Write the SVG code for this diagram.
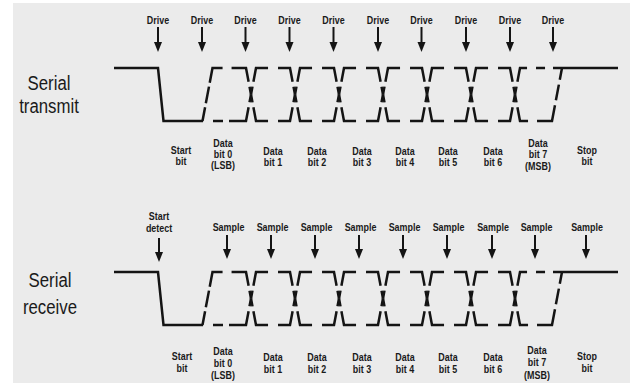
<svg xmlns="http://www.w3.org/2000/svg" xmlns:xlink="http://www.w3.org/1999/xlink" width="630" height="383" viewBox="0 0 630 383">
<style>
.bg{fill:#ebebeb}
.s{fill:none;stroke:#141414;stroke-width:2.5;stroke-linejoin:miter}
.d{fill:none;stroke:#141414;stroke-width:2.5;stroke-linejoin:miter}
.full{stroke-dasharray:8 5 26 10 26 5 8}
.ar{fill:none;stroke:#141414;stroke-width:2;marker-end:url(#head)}
.lb{font-family:"Liberation Sans",Arial,sans-serif;font-weight:bold;font-size:10.5px;fill:#1a1a1a;text-anchor:middle}
.big{font-family:"Liberation Sans",Arial,sans-serif;font-size:21px;fill:#1a1a1a;text-anchor:middle}
</style>
<defs>
<marker id="head" viewBox="0 -4 10 8" refX="0" refY="0" markerWidth="10" markerHeight="8" markerUnits="userSpaceOnUse" orient="auto" overflow="visible">
<path d="M0,-4 L10,0 L0,4 Z" fill="#141414"/>
</marker>
<g id="wave">
<path class="s" d="M114,68 L158,68 L163.5,121 L203,121"/>
<path class="s" d="M553,68 L618,68"/>
<path class="d" d="M202.5,121 L212.5,68 L246,68 L251,94.5" style="stroke-dasharray:14 4 17 4 25 9 28.5 5 8"/>
<path class="d" d="M203,121 L246,121 L251,94.5" style="stroke-dasharray:0 10 10 6 31 5 8"/>
<path class="d full" d="M251,94.5 L256,68 L290,68 L295,94.5"/>
<path class="d full" d="M251,94.5 L256,121 L290,121 L295,94.5"/>
<path class="d full" d="M295,94.5 L300,68 L334,68 L339,94.5"/>
<path class="d full" d="M295,94.5 L300,121 L334,121 L339,94.5"/>
<path class="d full" d="M339,94.5 L344,68 L378,68 L383,94.5"/>
<path class="d full" d="M339,94.5 L344,121 L378,121 L383,94.5"/>
<path class="d full" d="M383,94.5 L388,68 L422,68 L427,94.5"/>
<path class="d full" d="M383,94.5 L388,121 L422,121 L427,94.5"/>
<path class="d full" d="M427,94.5 L432,68 L466,68 L471,94.5"/>
<path class="d full" d="M427,94.5 L432,121 L466,121 L471,94.5"/>
<path class="d full" d="M471,94.5 L476,68 L510,68 L515,94.5"/>
<path class="d full" d="M471,94.5 L476,121 L510,121 L515,94.5"/>
<path class="d" d="M515,94.5 L520,68 L553,68" style="stroke-dasharray:8 5 21 9 9 8"/>
<path class="d" d="M515,94.5 L520,121 L552,121 L562,68" style="stroke-dasharray:8 5 22 9 31 5 16 5 12"/>
</g>
</defs>
<rect x="0" y="0" width="630" height="383" fill="#ffffff"/>
<rect class="bg" x="13" y="3" width="617" height="380"/>

<g id="transmit-label">
<text class="big" transform="translate(49,90) scale(0.8,1)">Serial</text>
<text class="big" transform="translate(49,113) scale(0.8,1)">transmit</text>
</g>
<g id="receive-label">
<text class="big" transform="translate(50,287) scale(0.8,1)">Serial</text>
<text class="big" transform="translate(50,314) scale(0.8,1)">receive</text>
</g>

<g id="transmit-wave"><use xlink:href="#wave"/></g>
<g id="receive-wave"><use xlink:href="#wave" y="204"/></g>

<g id="drive-arrows">
<path class="ar" d="M158,27V42"/>
<path class="ar" d="M202,27V42"/>
<path class="ar" d="M245.5,27V42"/>
<path class="ar" d="M289.5,27V42"/>
<path class="ar" d="M333.5,27V42"/>
<path class="ar" d="M378,27V42"/>
<path class="ar" d="M421.5,27V42"/>
<path class="ar" d="M466,27V42"/>
<path class="ar" d="M510,27V42"/>
<path class="ar" d="M553,27V42"/>
</g>
<g id="drive-labels">
<text class="lb" transform="translate(158,24) scale(0.85,1)">Drive</text>
<text class="lb" transform="translate(202,24) scale(0.85,1)">Drive</text>
<text class="lb" transform="translate(245.5,24) scale(0.85,1)">Drive</text>
<text class="lb" transform="translate(289.5,24) scale(0.85,1)">Drive</text>
<text class="lb" transform="translate(333.5,24) scale(0.85,1)">Drive</text>
<text class="lb" transform="translate(378,24) scale(0.85,1)">Drive</text>
<text class="lb" transform="translate(421.5,24) scale(0.85,1)">Drive</text>
<text class="lb" transform="translate(466,24) scale(0.85,1)">Drive</text>
<text class="lb" transform="translate(510,24) scale(0.85,1)">Drive</text>
<text class="lb" transform="translate(553,24) scale(0.85,1)">Drive</text>
</g>

<g id="sample-arrows">
<path class="ar" d="M159,238V252"/>
<path class="ar" d="M227,235V249"/>
<path class="ar" d="M271,235V249"/>
<path class="ar" d="M315,235V249"/>
<path class="ar" d="M359,235V249"/>
<path class="ar" d="M403,235V249"/>
<path class="ar" d="M447,235V249"/>
<path class="ar" d="M492,235V249"/>
<path class="ar" d="M535,235V249"/>
<path class="ar" d="M586,235V249"/>
</g>
<g id="sample-labels">
<text class="lb" transform="translate(159,220) scale(0.85,1)">Start<tspan x="0" dy="12">detect</tspan></text>
<text class="lb" transform="translate(228.5,231) scale(0.85,1)">Sample</text>
<text class="lb" transform="translate(272.5,231) scale(0.85,1)">Sample</text>
<text class="lb" transform="translate(316.5,231) scale(0.85,1)">Sample</text>
<text class="lb" transform="translate(360.5,231) scale(0.85,1)">Sample</text>
<text class="lb" transform="translate(404.5,231) scale(0.85,1)">Sample</text>
<text class="lb" transform="translate(448.5,231) scale(0.85,1)">Sample</text>
<text class="lb" transform="translate(493,231) scale(0.85,1)">Sample</text>
<text class="lb" transform="translate(536.5,231) scale(0.85,1)">Sample</text>
<text class="lb" transform="translate(587,231) scale(0.85,1)">Sample</text>
</g>

<g id="transmit-bits">
<text class="lb" transform="translate(181,154) scale(0.85,1)">Start<tspan x="0" dy="11">bit</tspan></text>
<text class="lb" transform="translate(223,147) scale(0.85,1)">Data<tspan x="0" dy="11">bit 0</tspan><tspan x="0" dy="11">(LSB)</tspan></text>
<text class="lb" transform="translate(273,155) scale(0.85,1)">Data<tspan x="0" dy="11">bit 1</tspan></text>
<text class="lb" transform="translate(317,155) scale(0.85,1)">Data<tspan x="0" dy="11">bit 2</tspan></text>
<text class="lb" transform="translate(362,155) scale(0.85,1)">Data<tspan x="0" dy="11">bit 3</tspan></text>
<text class="lb" transform="translate(405,155) scale(0.85,1)">Data<tspan x="0" dy="11">bit 4</tspan></text>
<text class="lb" transform="translate(448,155) scale(0.85,1)">Data<tspan x="0" dy="11">bit 5</tspan></text>
<text class="lb" transform="translate(493,155) scale(0.85,1)">Data<tspan x="0" dy="11">bit 6</tspan></text>
<text class="lb" transform="translate(538,147) scale(0.85,1)">Data<tspan x="0" dy="11">bit 7</tspan><tspan x="0" dy="12">(MSB)</tspan></text>
<text class="lb" transform="translate(587,154) scale(0.85,1)">Stop<tspan x="0" dy="11">bit</tspan></text>
</g>

<g id="receive-bits">
<text class="lb" transform="translate(182,360) scale(0.85,1)">Start<tspan x="0" dy="12">bit</tspan></text>
<text class="lb" transform="translate(223,355) scale(0.85,1)">Data<tspan x="0" dy="12">bit 0</tspan><tspan x="0" dy="12">(LSB)</tspan></text>
<text class="lb" transform="translate(273,361) scale(0.85,1)">Data<tspan x="0" dy="12">bit 1</tspan></text>
<text class="lb" transform="translate(317,361) scale(0.85,1)">Data<tspan x="0" dy="12">bit 2</tspan></text>
<text class="lb" transform="translate(362,361) scale(0.85,1)">Data<tspan x="0" dy="12">bit 3</tspan></text>
<text class="lb" transform="translate(405,361) scale(0.85,1)">Data<tspan x="0" dy="12">bit 4</tspan></text>
<text class="lb" transform="translate(448,361) scale(0.85,1)">Data<tspan x="0" dy="12">bit 5</tspan></text>
<text class="lb" transform="translate(493,361) scale(0.85,1)">Data<tspan x="0" dy="12">bit 6</tspan></text>
<text class="lb" transform="translate(537,354) scale(0.85,1)">Data<tspan x="0" dy="12">bit 7</tspan><tspan x="0" dy="13">(MSB)</tspan></text>
<text class="lb" transform="translate(587,360) scale(0.85,1)">Stop<tspan x="0" dy="12">bit</tspan></text>
</g>
</svg>
